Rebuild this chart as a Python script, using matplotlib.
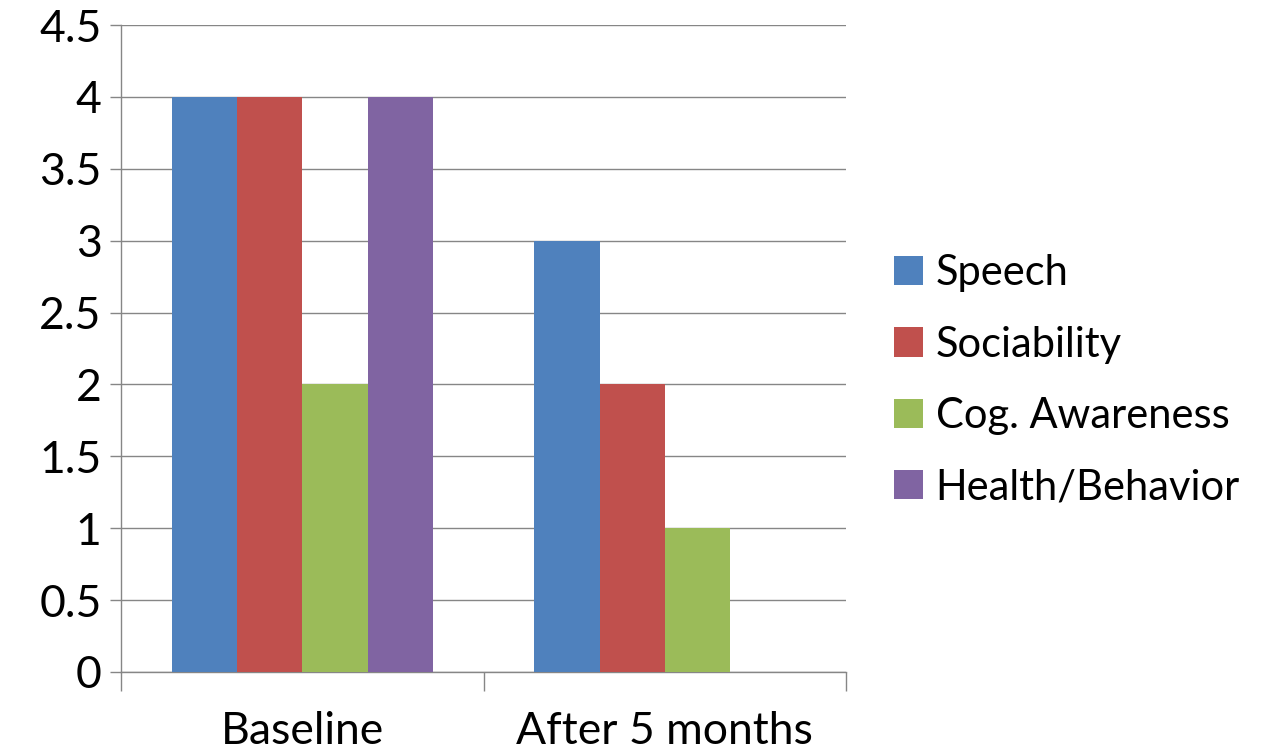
import numpy as np
import matplotlib.pyplot as plt
from matplotlib.ticker import FixedLocator

plt.rcParams['font.family'] = ['Lato', 'DejaVu Sans']

categories = ['Baseline', 'After 5 months']
series = ['Speech', 'Sociability', 'Cog. Awareness', 'Health/Behavior']
speech = [4, 3]
sociability = [4, 2]
cog_awareness = [2, 1]
health_behavior = [4, 0]
yticks = [0, 0.5, 1, 1.5, 2, 2.5, 3, 3.5, 4, 4.5]
ytick_labels = ['0', '0.5', '1', '1.5', '2', '2.5', '3', '3.5', '4', '4.5']
colors = ['#4F81BD', '#C0504D', '#9BBB59', '#8064A2']

fig = plt.figure(figsize=(12.63, 7.52), dpi=100)
ax = fig.add_axes([121 / 1263, 1 - 672 / 752, (846 - 121) / 1263, (672 - 25) / 752])

x = np.arange(len(categories))
w = 0.18
values = [speech, sociability, cog_awareness, health_behavior]
for i, (name, vals) in enumerate(zip(series, values)):
    ax.bar(x + (i - 1.5) * w, vals, w, color=colors[i], label=name, zorder=3)

ax.set_xlim(-0.5, 1.5)
ax.set_ylim(0, 4.5)
ax.set_yticks(yticks)
ax.set_yticklabels(ytick_labels)
ax.yaxis.grid(True, color='#868686', linewidth=1, zorder=0)

# category labels sit between the boundary ticks
ax.xaxis.set_major_locator(FixedLocator([-0.5, 0.5, 1.5]))
ax.xaxis.set_major_formatter(plt.NullFormatter())
ax.xaxis.set_minor_locator(FixedLocator(x))
ax.set_xticklabels(categories, minor=True)
ax.tick_params(axis='x', which='major', length=14, color='#868686', width=1)
ax.tick_params(axis='x', which='minor', length=0, pad=28, labelsize=32)
ax.tick_params(axis='y', length=8, color='#868686', width=1, labelsize=32, pad=6)

for s in ['top', 'right']:
    ax.spines[s].set_visible(False)
for s in ['left', 'bottom']:
    ax.spines[s].set_color('#868686')
    ax.spines[s].set_linewidth(1)

ax.legend(loc='center left', bbox_to_anchor=(1.043, 0.451), frameon=False,
          fontsize=30, handlelength=0.7, handleheight=0.7, handletextpad=0.3,
          labelspacing=0.8, borderaxespad=0)

fig.savefig('out.png', dpi=100)
